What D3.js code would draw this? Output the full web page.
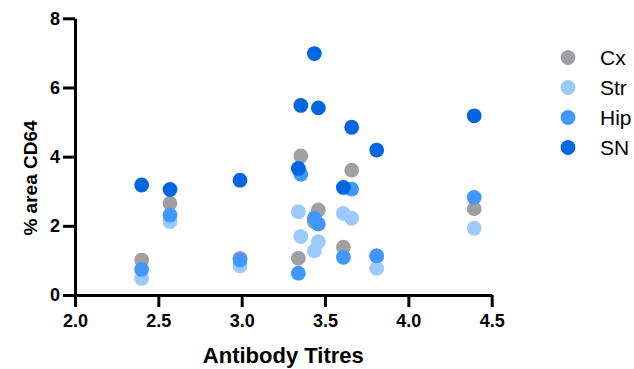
<!DOCTYPE html>
<html>
<head>
<meta charset="utf-8">
<script src="https://cdn.jsdelivr.net/npm/d3@7"></script>
<style>
  body { margin: 0; background: #fff; }
  svg { display: block; font-family: "Liberation Sans", Arial, sans-serif; }
  .axis path, .axis line { stroke: #000; stroke-width: 3px; }
  .axis text { font-size: 18px; font-weight: bold; fill: #000; font-family: "Liberation Sans", Arial, sans-serif; }
</style>
</head>
<body>
<svg id="chart" width="634" height="369"></svg>
<script>
// antibody titre per subject
var titres = [2.40, 2.57, 2.99, 3.34, 3.355, 3.436, 3.46, 3.61, 3.66, 3.81, 4.395];

// % area CD64 per region, same subject order
var cx  = [1.01, 2.65, 1.06, 1.06, 4.02, 2.12, 2.46, 1.38, 3.61, 1.13, 2.49];
var str = [0.48, 2.12, 0.84, 2.41, 1.69, 1.28, 1.54, 2.36, 2.22, 0.77, 1.93];
var hip = [0.74, 2.31, 1.01, 0.63, 3.49, 2.22, 2.05, 1.09, 3.06, 1.13, 2.82];
var sn  = [3.18, 3.05, 3.32, 3.66, 5.48, 6.98, 5.41, 3.11, 4.85, 4.19, 5.18];

var seriesNames = ['Cx', 'Str', 'Hip', 'SN'];
var seriesColors = ['#a0a0a4', '#9ccaff', '#3f97ff', '#0066e2'];
var xTicks = [2.0, 2.5, 3.0, 3.5, 4.0, 4.5];
var yTicks = [0, 2, 4, 6, 8];

var series = [cx, str, hip, sn].map(function(vals, i) {
  return { name: seriesNames[i], color: seriesColors[i], values: vals };
});

var svg = d3.select('#chart');
var plot = { left: 75, right: 491.7, top: 18.3, bottom: 295 };

var x = d3.scaleLinear().domain([2, 4.5]).range([plot.left, plot.right]);
var y = d3.scaleLinear().domain([0, 8]).range([plot.bottom, plot.top]);

// axes
svg.append('g')
  .attr('class', 'axis')
  .attr('transform', 'translate(0,' + plot.bottom + ')')
  .call(d3.axisBottom(x).tickValues(xTicks).tickFormat(d3.format('.1f')).tickSize(12).tickSizeOuter(0).tickPadding(7));

svg.append('g')
  .attr('class', 'axis')
  .attr('transform', 'translate(' + plot.left + ',0)')
  .call(d3.axisLeft(y).tickValues(yTicks).tickFormat(d3.format('d')).tickSize(12).tickSizeOuter(0).tickPadding(3));

svg.selectAll('.axis text').style('font-size', '18px');

// axis titles
svg.append('text')
  .attr('x', x(3.25))
  .attr('y', 363)
  .attr('text-anchor', 'middle')
  .style('font-size', '22px')
  .style('font-weight', 'bold')
  .text('Antibody Titres');

svg.append('text')
  .attr('transform', 'translate(37,178) rotate(-90)')
  .attr('text-anchor', 'middle')
  .style('font-size', '19px')
  .style('font-weight', 'bold')
  .text('% area CD64');

// points, later series drawn on top
series.forEach(function(s) {
  svg.append('g')
    .selectAll('circle')
    .data(s.values)
    .enter()
    .append('circle')
    .attr('cx', function(d, i) { return x(titres[i]); })
    .attr('cy', function(d) { return y(d); })
    .attr('r', 7.4)
    .attr('fill', s.color);
});

// legend
var legend = svg.append('g')
  .selectAll('g')
  .data(series)
  .enter()
  .append('g')
  .attr('transform', function(d, i) { return 'translate(568,' + (57.5 + i * 30) + ')'; });

legend.append('circle')
  .attr('r', 7.4)
  .attr('fill', function(d) { return d.color; });

legend.append('text')
  .attr('x', 32)
  .attr('y', 7.5)
  .style('font-size', '21px')
  .text(function(d) { return d.name; });
</script>
</body>
</html>
